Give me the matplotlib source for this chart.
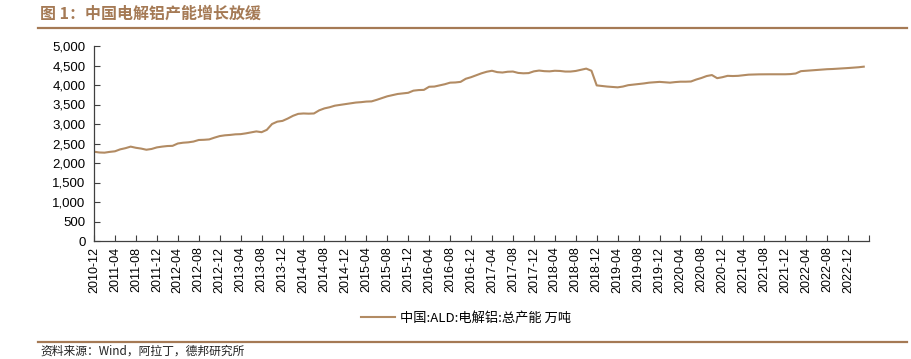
import numpy as np
import pandas as pd
import matplotlib
matplotlib.use('Agg')
import matplotlib.pyplot as plt
from matplotlib.ticker import FuncFormatter
from matplotlib.lines import Line2D

plt.rcParams['font.family'] = ['Liberation Sans', 'Noto Sans CJK SC', 'DejaVu Sans']

# monthly data, 2010-12 .. 2023-03
months = pd.period_range('2010-12', '2023-03', freq='M').strftime('%Y-%m').tolist()
capacity = [
    2290, 2270, 2265, 2285, 2300, 2350, 2380, 2420, 2390, 2370, 2340, 2360,
    2400, 2420, 2435, 2440, 2500, 2520, 2530, 2550, 2590, 2595, 2605, 2650,
    2690, 2710, 2720, 2735, 2740, 2760, 2785, 2810, 2790, 2850, 3000, 3060,
    3080, 3140, 3210, 3260, 3270, 3265, 3270, 3350, 3400, 3430, 3470, 3490,
    3510, 3530, 3550, 3560, 3575, 3580, 3620, 3665, 3710, 3740, 3770, 3785,
    3800, 3855, 3870, 3875, 3955, 3960, 3990, 4020, 4060, 4065, 4080, 4160,
    4200, 4250, 4300, 4340, 4365, 4330, 4320, 4340, 4345, 4310, 4300, 4305,
    4350, 4370, 4355, 4350, 4365, 4360, 4345, 4345, 4360, 4390, 4420, 4365,
    3990, 3975, 3960, 3950, 3940, 3960, 3995, 4010, 4025, 4040, 4060, 4070,
    4080, 4070, 4060, 4075, 4085, 4085, 4090, 4140, 4180, 4230, 4255, 4175,
    4200, 4235, 4230, 4235, 4250, 4265, 4270, 4273, 4275, 4275, 4275, 4275,
    4275, 4280, 4295, 4355, 4365, 4375, 4385, 4395, 4405, 4410, 4418, 4425,
    4435, 4445, 4455, 4470,
]
yticks = list(range(0, 5001, 500))

title = '图 1：中国电解铝产能增长放缓'
series_name = '中国:ALD:电解铝:总产能 万吨'
source = '资料来源：Wind，阿拉丁，德邦研究所'

line_color = '#b28b63'
title_color = '#a57a55'
cjk = ['Noto Sans CJK SC', 'DejaVu Sans']

fig = plt.figure(figsize=(9.12, 3.59), dpi=100)
ax = fig.add_axes([94 / 912, 1 - 241 / 359, 775 / 912, 195 / 359])

x = np.arange(len(capacity))
ax.plot(x, capacity, color=line_color, lw=1.5)

# x ticks every 4 months, plus one unlabeled tick at the axis end
tick_pos = list(range(0, 145, 4)) + [148]
tick_lab = [months[i] for i in range(0, 145, 4)] + ['']
ax.set_xlim(0, 148)
ax.set_xticks(tick_pos)
ax.set_xticklabels(tick_lab, rotation=90, fontsize=9)

ax.set_ylim(0, 5000)
ax.set_yticks(yticks)
ax.yaxis.set_major_formatter(FuncFormatter(lambda v, p: f'{int(v):,}'))
ax.tick_params(axis='y', labelsize=9.5, direction='in', length=4, color='#404040', pad=6)
ax.tick_params(axis='x', direction='in', length=4, color='#404040', pad=4)

for s in ['top', 'right']:
    ax.spines[s].set_visible(False)
for s in ['left', 'bottom']:
    ax.spines[s].set_color('#404040')
    ax.spines[s].set_linewidth(0.9)

# title and rules
fig.text(40 / 912, 1 - 14 / 359, title, fontsize=11.5, fontweight='bold',
         color=title_color, va='center', ha='left', family=cjk)
fig.add_artist(Line2D([38 / 912, 0.995], [1 - 28 / 359] * 2, color=title_color, lw=1.6))
fig.add_artist(Line2D([38 / 912, 0.995], [1 - 341.5 / 359] * 2, color=title_color, lw=1.6))
fig.text(40 / 912, 1 - 351 / 359, source, fontsize=8.5, color='#222222',
         va='center', ha='left', family=cjk)

leg_handle = Line2D([], [], color=line_color, lw=1.5)
fig.legend([leg_handle], [series_name], loc='center', bbox_to_anchor=(466 / 912, 1 - 318 / 359),
           frameon=False, handlelength=2.6, handletextpad=0.4,
           prop={'family': cjk, 'size': 9.5})

fig.savefig('out.png', dpi=100)
